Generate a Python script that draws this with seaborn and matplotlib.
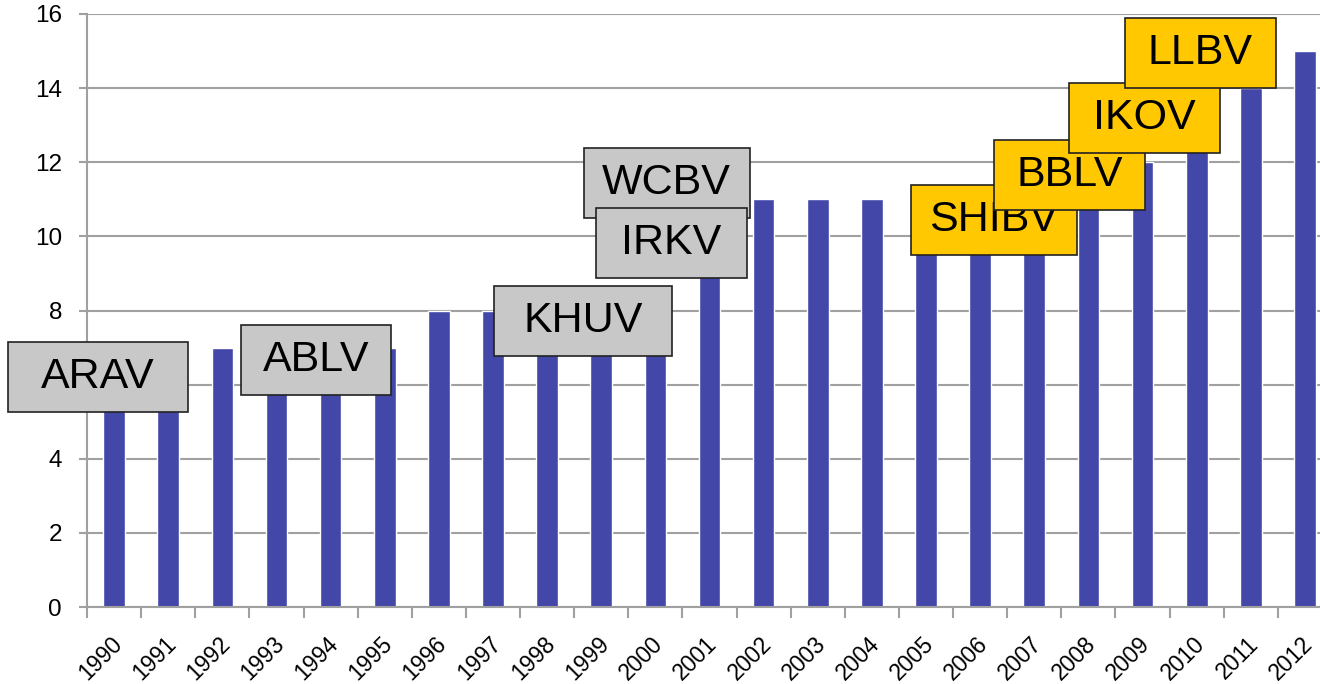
import seaborn as sns
import pandas as pd
import numpy as np
import matplotlib.pyplot as plt
import matplotlib.transforms as mtransforms
from matplotlib.patches import Rectangle

# Данные графика
years = ['1990', '1991', '1992', '1993', '1994', '1995', '1996', '1997', '1998', '1999', '2000', '2001',
         '2002', '2003', '2004', '2005', '2006', '2007', '2008', '2009', '2010', '2011', '2012']
values = [6, 6, 7, 7, 7, 7, 8, 8, 8, 8, 8, 10, 11, 11, 11, 11, 11, 11, 11, 12, 13, 14, 15]

# Подписи-плашки: текст, центр x (индекс категории), центр y, ширина (в категориях), цвет
box_labels = ['ARAV', 'ABLV', 'KHUV', 'WCBV', 'IRKV', 'SHIBV', 'BBLV', 'IKOV', 'LLBV']
box_x = [-0.30, 3.73, 8.66, 10.21, 10.30, 16.25, 17.65, 19.04, 20.07]
box_y = [6.21, 6.66, 7.72, 11.44, 9.82, 10.44, 11.66, 13.19, 14.95]
box_w = [3.32, 2.77, 3.29, 3.06, 2.79, 3.06, 2.79, 2.79, 2.79]
box_color = ['#c8c8c8'] * 5 + ['#ffc800'] * 4

df = pd.DataFrame({'year': years, 'value': values})

sns.set_style('white')
plt.rcParams['font.family'] = ['Liberation Sans', 'DejaVu Sans']
plt.rcParams['text.color'] = 'black'

fig = plt.figure(figsize=(13.2, 6.84), dpi=100)
ax = fig.add_axes([87 / 1320, 77 / 684, 1245 / 1320, 593 / 684])

sns.barplot(data=df, x='year', y='value', color='#4348a8', width=0.4, saturation=1, ax=ax, zorder=2)

ax.set_ylim(0, 16)
ax.set_xlim(-0.5, len(years) - 0.5)
ax.set_yticks(range(0, 17, 2))
ax.yaxis.grid(True, color='#a0a0a0', linewidth=1.5, zorder=0)
ax.set_axisbelow(True)
ax.set_xlabel('')
ax.set_ylabel('')

for s in ['top', 'right']:
    ax.spines[s].set_visible(False)
for s in ['left', 'bottom']:
    ax.spines[s].set_color('#a0a0a0')
    ax.spines[s].set_linewidth(1.5)

ax.tick_params(axis='y', labelsize=17.5, length=6, width=1.5, color='#a0a0a0', labelcolor='black',
               left=True, pad=12)
ax.set_xticks(np.arange(len(years)))
ax.set_xticklabels(years, rotation=45, ha='right', va='center', rotation_mode='anchor', fontsize=16.5)
ax.tick_params(axis='x', which='major', length=0, pad=24, labelcolor='black')
shift = mtransforms.ScaledTranslation(3 / 72, 0, fig.dpi_scale_trans)
for lbl in ax.get_xticklabels():
    lbl.set_transform(lbl.get_transform() + shift)
ax.set_xticks(np.arange(len(years) + 1) - 0.5, minor=True)
ax.tick_params(axis='x', which='minor', length=8, width=1.5, color='#a0a0a0', bottom=True)

# Плашки с подписями
h = 1.89
for i, (lab, x, y, w, c) in enumerate(zip(box_labels, box_x, box_y, box_w, box_color)):
    ax.add_patch(Rectangle((x - w / 2, y - h / 2), w, h, facecolor=c, edgecolor='#222222',
                           linewidth=1.2, zorder=5 + i, clip_on=False))
    ax.text(x, y, lab, fontsize=31, color='black', ha='center', va='center', zorder=5 + i)

plt.savefig('out.png', dpi=100)
